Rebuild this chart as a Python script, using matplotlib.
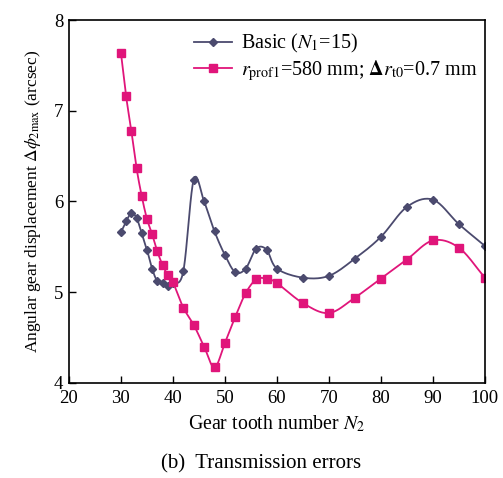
import numpy as np
import matplotlib
matplotlib.use("Agg")
import matplotlib.pyplot as plt

# Basic (N1=15)
basic_x = [30, 31, 32, 33, 34, 35, 36, 37, 38, 39, 40, 42, 44, 46, 48, 50, 52, 54, 56, 58,
           60, 65, 70, 75, 80, 85, 90, 95, 100]
basic_y = [5.66, 5.78, 5.87, 5.82, 5.65, 5.47, 5.26, 5.12, 5.10, 5.07, 5.10, 5.23, 6.24, 6.00,
           5.67, 5.41, 5.22, 5.26, 5.48, 5.47, 5.26, 5.16, 5.18, 5.37, 5.61, 5.94, 6.02, 5.75, 5.51]

# modified profile r_prof1=580 mm; dr_t0=0.7 mm
mod_x = [30, 31, 32, 33, 34, 35, 36, 37, 38, 39, 40, 42, 44, 46, 48, 50, 52, 54, 56, 58,
         60, 65, 70, 75, 80, 85, 90, 95, 100]
mod_y = [7.64, 7.16, 6.78, 6.37, 6.06, 5.81, 5.64, 5.45, 5.30, 5.19, 5.11, 4.83, 4.64, 4.40,
         4.17, 4.44, 4.73, 4.99, 5.14, 5.15, 5.10, 4.88, 4.77, 4.94, 5.15, 5.36, 5.57, 5.49, 5.16]

x_ticks = [20, 30, 40, 50, 60, 70, 80, 90, 100]
y_ticks = [4, 5, 6, 7, 8]


def smooth(x, y, n=20):
    # cubic hermite (catmull-rom) drawing of the line, like a spreadsheet "smoothed line"
    x = np.asarray(x, float)
    y = np.asarray(y, float)
    px = np.concatenate([[2 * x[0] - x[1]], x, [2 * x[-1] - x[-2]]])
    py = np.concatenate([[2 * y[0] - y[1]], y, [2 * y[-1] - y[-2]]])
    t = np.linspace(0, 1, n)
    h00 = 2 * t**3 - 3 * t**2 + 1
    h10 = t**3 - 2 * t**2 + t
    h01 = -2 * t**3 + 3 * t**2
    h11 = t**3 - t**2
    xs, ys = [], []
    for i in range(1, len(px) - 2):
        for p, out in ((px, xs), (py, ys)):
            p0, p1, p2, p3 = p[i - 1], p[i], p[i + 1], p[i + 2]
            m1 = (p2 - p0) / 2
            m2 = (p3 - p1) / 2
            out.extend(h00 * p1 + h10 * m1 + h01 * p2 + h11 * m2)
    return xs, ys


plt.rcParams['font.family'] = ['Liberation Serif', 'DejaVu Serif']
plt.rcParams['mathtext.fontset'] = 'stix'

fig = plt.figure(figsize=(5.03, 4.78), dpi=100)
ax = fig.add_axes([0.137, 0.199, 0.827, 0.759])

navy = '#4b4a6e'
pink = '#e0157a'

sx, sy = smooth(basic_x, basic_y)
ax.plot(sx, sy, color=navy, lw=1.3)
ax.plot(basic_x, basic_y, ls='none', marker='D', ms=4.5, color=navy)
ax.plot([], [], color=navy, lw=1.3, marker='D', ms=4.5, label='Basic ($N_1$=15)')

sx, sy = smooth(mod_x, mod_y)
ax.plot(sx, sy, color=pink, lw=1.3)
ax.plot(mod_x, mod_y, ls='none', marker='s', ms=5.5, color=pink)
ax.plot([], [], color=pink, lw=1.3, marker='s', ms=5.5,
        label=r'$r_{\rm prof1}$=580 mm; $\mathbf{\Delta}\mathit{r}_{\rm t0}$=0.7 mm')

ax.set_xlim(20, 100)
ax.set_ylim(4, 8)
ax.set_xticks(x_ticks)
ax.set_yticks(y_ticks)
ax.tick_params(direction='in', labelsize=13.5, length=5, width=1)
ax.tick_params(axis='x', pad=5)
ax.tick_params(axis='y', pad=4)
for s in ax.spines.values():
    s.set_linewidth(1.2)

ax.set_xlabel('Gear tooth number $N_2$', fontsize=14.3, labelpad=5)
ax.set_ylabel(r'Angular gear displacement $\Delta\phi_{\rm 2max}$ (arcsec)', fontsize=12.5, labelpad=8)

ax.legend(loc='upper right', bbox_to_anchor=(1.01, 1.0), frameon=False, fontsize=14.5,
          handlelength=1.9, handletextpad=0.4, labelspacing=0.15, borderaxespad=0.2)

fig.text(0.519, 0.02, '(b)  Transmission errors', ha='center', fontsize=15)

fig.savefig('out.png', dpi=100)
